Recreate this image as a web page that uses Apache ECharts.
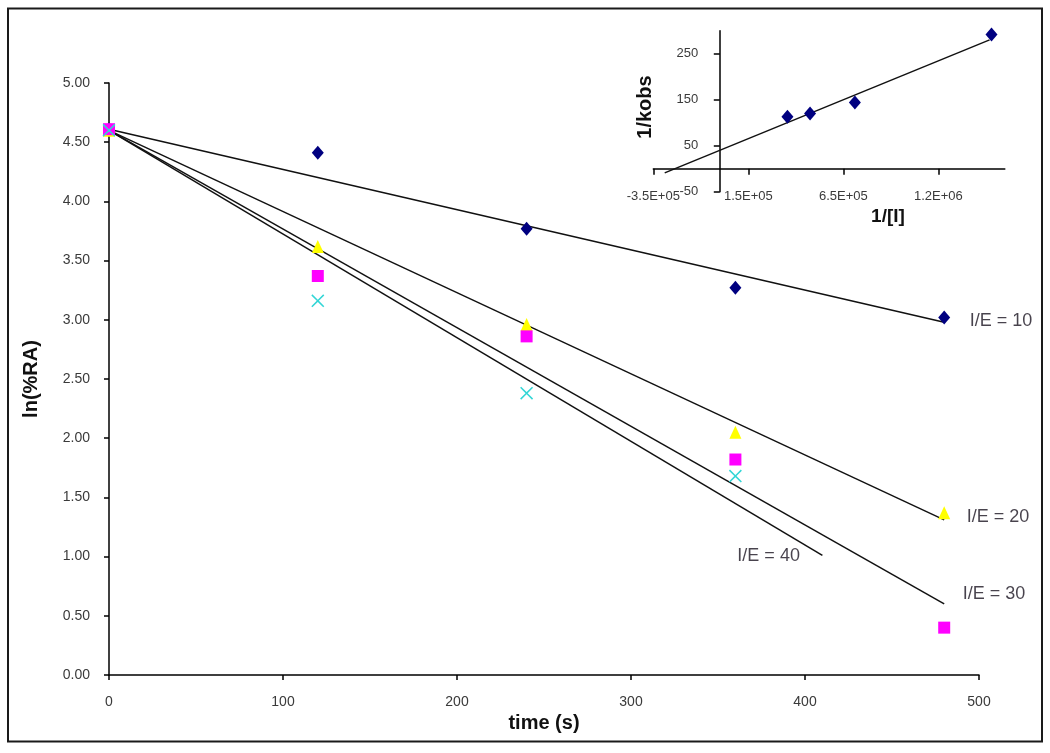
<!DOCTYPE html>
<html>
<head>
<meta charset="utf-8">
<script src="https://cdn.jsdelivr.net/npm/echarts@6/dist/echarts.min.js"></script>
<style>
html,body{margin:0;padding:0;background:#fff;}
#chart{width:1050px;height:753px;}
</style>
</head>
<body>
<div id="chart"></div>
<script>
// ---- main chart data ----
const times = [0, 120, 240, 360, 480];
const ie10 = [4.61, 4.41, 3.77, 3.27, 3.02];
const ie20 = [4.60, 3.62, 2.96, 2.05, 1.37];
const ie30 = [4.61, 3.37, 2.86, 1.82, 0.40];
const ie40 = [4.60, 3.16, 2.38, 1.68];

// trend line end points [t, ln(%RA)]
const trend10 = [[0, 4.61], [480, 2.98]];
const trend20 = [[0, 4.60], [480, 1.31]];
const trend30 = [[0, 4.60], [480, 0.60]];
const trend40 = [[0, 4.60], [410, 1.01]];
const trendNames = ['I/E = 10', 'I/E = 20', 'I/E = 30', 'I/E = 40'];

// ---- inset data ----
const invI = [1430000, 711000, 475000, 356000];
const invKobs = [292, 144, 120, 113];
const insetTrend = [[-290000, -9], [1420000, 280]];
const insetXTicks = [-350000, 150000, 650000, 1150000];
const insetXLabels = ['-3.5E+05', '1.5E+05', '6.5E+05', '1.2E+06'];
const insetYTicks = [-50, 50, 150, 250];

const FONT = 'Liberation Sans, Arial, sans-serif';
const pairs = (xs, ys) => ys.map((v, i) => [xs[i], v]);

const chart = echarts.init(document.getElementById('chart'), null, {renderer: 'canvas'});

const xPath = 'path://M0,1 L1,0 L6,5 L11,0 L12,1 L7,6 L12,11 L11,12 L6,7 L1,12 L0,11 L5,6 Z';

function trendSeries(data) {
  return {
    type: 'line', xAxisIndex: 0, yAxisIndex: 0, data: data,
    symbol: 'none', silent: true, z: 2,
    lineStyle: {color: '#111', width: 1.5}
  };
}
function labelSeries(pt, text, pos, dist, off) {
  return {
    type: 'scatter', xAxisIndex: 0, yAxisIndex: 0, silent: true, z: 5,
    symbolSize: 1, itemStyle: {color: 'rgba(0,0,0,0)'},
    data: [{value: pt, label: {show: true, formatter: text, position: pos, distance: dist, offset: off,
      fontFamily: FONT, fontSize: 18, color: '#1a1420'}}]
  };
}

const option = {
  backgroundColor: '#fff',
  animation: false,
  grid: [
    {left: 109, top: 83, width: 870, height: 592},
    {left: 653.3, top: 30.7, width: 351.5, height: 161}
  ],
  xAxis: [
    {
      gridIndex: 0, type: 'value', min: 0, max: 500, interval: 100,
      name: 'time (s)', nameLocation: 'middle', nameGap: 37,
      nameTextStyle: {fontFamily: FONT, fontSize: 20, fontWeight: 'bold', color: '#111'},
      axisLine: {onZero: false, lineStyle: {color: '#000', width: 1.5}},
      axisTick: {show: true, length: 5, lineStyle: {color: '#000', width: 1.5}},
      axisLabel: {fontFamily: FONT, fontSize: 14, color: '#3a3a3a', margin: 20},
      splitLine: {show: false}
    },
    {
      gridIndex: 1, type: 'value', min: -350000, max: 1500000,
      axisLine: {onZero: true, lineStyle: {color: '#000', width: 1.5}},
      axisTick: {show: true, length: 6, customValues: insetXTicks, lineStyle: {color: '#000', width: 1.5}},
      axisLabel: {customValues: insetXTicks, fontFamily: FONT, fontSize: 13, color: '#3a3a3a', margin: -2,
        formatter: v => insetXLabels[insetXTicks.indexOf(v)] ?? ''},
      splitLine: {show: false}
    }
  ],
  yAxis: [
    {
      gridIndex: 0, type: 'value', min: 0, max: 5, interval: 0.5,
      name: 'ln(%RA)', nameLocation: 'middle', nameGap: 68, nameRotate: 90,
      nameTextStyle: {fontFamily: FONT, fontSize: 20, fontWeight: 'bold', color: '#111'},
      axisLine: {show: true, onZero: false, lineStyle: {color: '#000', width: 1.5}},
      axisTick: {show: true, length: 5, lineStyle: {color: '#000', width: 1.5}},
      axisLabel: {fontFamily: FONT, fontSize: 14, color: '#3a3a3a', margin: 19,
        formatter: v => v.toFixed(2)},
      splitLine: {show: false}
    },
    {
      gridIndex: 1, type: 'value', min: -50, max: 300,
      axisLine: {show: true, onZero: true, lineStyle: {color: '#000', width: 1.5}},
      axisTick: {show: true, length: 6, customValues: insetYTicks, lineStyle: {color: '#000', width: 1.5}},
      axisLabel: {customValues: insetYTicks, fontFamily: FONT, fontSize: 13, color: '#3a3a3a', margin: -45},
      splitLine: {show: false}
    }
  ],
  graphic: [
    {type: 'rect', shape: {x: 8, y: 8.5, width: 1034, height: 733}, style: {fill: 'none', stroke: '#1a1a1a', lineWidth: 2}, z: 100},
    {type: 'text', x: 888, y: 217, style: {text: '1/[I]', font: 'bold 19px ' + FONT, fill: '#111', textAlign: 'center', textVerticalAlign: 'middle'}},
    {type: 'text', x: 645, y: 107, rotation: Math.PI / 2, style: {text: '1/kobs', font: 'bold 20px ' + FONT, fill: '#111', textAlign: 'center', textVerticalAlign: 'middle'}}
  ],
  series: [
    trendSeries(trend10), trendSeries(trend20), trendSeries(trend30), trendSeries(trend40),
    {type: 'scatter', xAxisIndex: 0, yAxisIndex: 0, data: pairs(times, ie10), symbol: 'diamond', symbolSize: [12, 14],
      itemStyle: {color: '#000080', opacity: 1}, z: 3},
    {type: 'scatter', xAxisIndex: 0, yAxisIndex: 0, data: pairs(times, ie20), symbol: 'triangle', symbolSize: [12, 13],
      itemStyle: {color: '#ffff00', opacity: 1}, z: 3},
    {type: 'scatter', xAxisIndex: 0, yAxisIndex: 0, data: pairs(times, ie30), symbol: 'rect', symbolSize: 12,
      itemStyle: {color: '#ff00ff', opacity: 1}, z: 3},
    {type: 'scatter', xAxisIndex: 0, yAxisIndex: 0, data: pairs(times, ie40), symbol: xPath, symbolSize: 13,
      itemStyle: {color: '#33d6d6', opacity: 1}, z: 3},
    labelSeries(trend10[1], trendNames[0], 'right', 25, [0, -1]),
    labelSeries(trend20[1], trendNames[1], 'right', 22, [0, -3]),
    labelSeries(trend30[1], trendNames[2], 'right', 18, [0, -10]),
    labelSeries(trend40[1], trendNames[3], 'left', 22, [0, 1]),
    {type: 'line', xAxisIndex: 1, yAxisIndex: 1, data: insetTrend, symbol: 'none', silent: true,
      lineStyle: {color: '#111', width: 1.5}, z: 2},
    {type: 'scatter', xAxisIndex: 1, yAxisIndex: 1, data: pairs(invI, invKobs), symbol: 'diamond', symbolSize: [12, 14],
      itemStyle: {color: '#000080', opacity: 1}, z: 3}
  ]
};
chart.setOption(option);
</script>
</body>
</html>
